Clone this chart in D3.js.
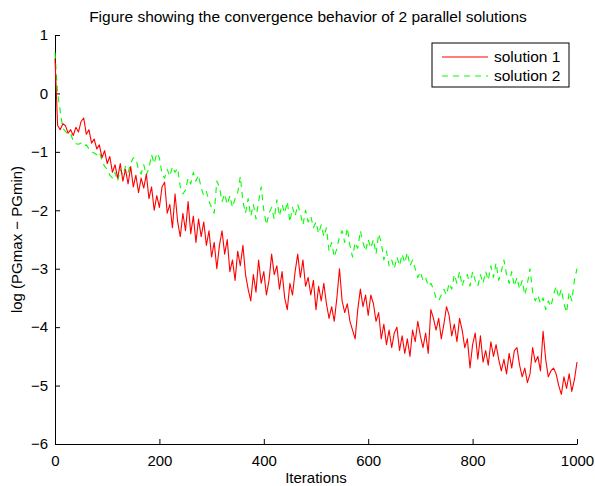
<!DOCTYPE html>
<html>
<head>
<meta charset="utf-8">
<script src="https://cdn.jsdelivr.net/npm/d3@7"></script>
<style>
	body { margin: 0; background: #fff; }
	text { font-family: 'Liberation Sans', Arial, sans-serif; fill: #000; }
	.axis path, .axis line { stroke: #000; stroke-width: 1; }
	.line { fill: none; stroke-linejoin: round; }
</style>
</head>
<body>
<div id="chart"></div>
<script>
/* global d3 */

var STEP = 5;

var seriesNames = ['solution 1', 'solution 2'];

var solution1 = [
	0.60, -0.55, -0.62, -0.52, -0.55, -0.68, -0.62, -0.72, -0.58, -0.66,
	-0.48, -0.42, -0.70, -0.62, -0.85, -0.78, -0.95, -0.88, -1.10, -0.98,
	-1.20, -1.08, -1.35, -1.22, -1.45, -1.20, -1.50, -1.30, -1.55, -1.25,
	-1.60, -1.40, -1.70, -1.45, -1.62, -1.38, -1.80, -1.60, -2.00, -1.75,
	-1.95, -1.60, -1.52, -2.05, -1.90, -2.30, -1.72, -2.20, -2.45, -2.05,
	-2.35, -1.85, -2.40, -2.10, -2.55, -2.15, -2.45, -2.20, -2.60, -2.35,
	-2.80, -2.55, -3.00, -2.60, -2.35, -2.75, -2.50, -3.05, -2.85, -3.20,
	-2.70, -2.95, -2.60, -3.10, -3.35, -3.55, -3.10, -3.40, -2.85, -3.25,
	-3.05, -3.45, -3.20, -2.75, -3.10, -2.95, -3.35, -3.05, -3.50, -3.70,
	-3.25, -3.45, -3.05, -2.75, -3.15, -2.85, -3.30, -3.15, -3.45, -3.20,
	-3.70, -3.30, -3.55, -3.25, -3.60, -3.85, -3.65, -3.90, -3.50, -3.00,
	-3.55, -3.75, -3.60, -3.90, -4.05, -4.20, -3.70, -3.35, -3.65, -3.45,
	-3.80, -3.45, -3.60, -3.90, -3.75, -4.20, -3.95, -4.30, -4.05, -4.35,
	-4.10, -4.00, -4.40, -4.15, -4.45, -4.20, -4.50, -4.05, -4.25, -3.90,
	-4.15, -4.35, -4.10, -4.45, -3.70, -3.85, -4.05, -3.85, -4.20, -3.95,
	-3.65, -3.80, -4.15, -3.95, -4.25, -3.85, -4.05, -4.35, -4.20, -4.70,
	-4.30, -4.10, -4.55, -4.15, -4.60, -4.40, -4.65, -4.25, -4.50, -4.30,
	-4.55, -4.75, -4.55, -4.80, -4.45, -4.70, -4.40, -4.35, -4.65, -4.85,
	-4.70, -4.95, -4.80, -4.35, -4.60, -4.50, -4.75, -4.07, -4.55, -4.85,
	-4.75, -4.70, -4.80, -5.00, -5.15, -4.85, -5.05, -4.80, -5.10, -4.90,
	-4.60
];

var solution2 = [
	0.70, 0.00, -0.30, -0.60, -0.65, -0.70, -0.68, -0.82, -0.86, -0.87,
	-0.85, -0.90, -0.88, -0.95, -1.00, -1.02, -1.05, -1.00, -1.15, -1.25,
	-1.30, -1.40, -1.45, -1.35, -1.50, -1.30, -1.40, -1.25, -1.35, -1.20,
	-1.10, -1.12, -1.30, -1.38, -1.22, -1.40, -1.28, -1.05, -1.20, -1.02,
	-1.10, -1.38, -1.45, -1.30, -1.42, -1.25, -1.35, -1.28, -1.60, -1.72,
	-1.65, -1.45, -1.55, -1.35, -1.50, -1.40, -1.62, -1.75, -1.68, -1.85,
	-1.95, -2.05, -1.50, -1.60, -1.85, -1.72, -1.90, -1.75, -1.95, -1.80,
	-1.70, -1.42, -1.85, -2.05, -1.80, -2.10, -1.90, -2.15, -1.85, -1.60,
	-2.00, -2.25, -2.05, -1.95, -2.15, -1.82, -2.10, -1.90, -2.05, -1.85,
	-2.20, -1.95, -2.10, -1.90, -2.05, -2.25, -2.00, -2.20, -2.10, -2.30,
	-2.20, -2.40, -2.25, -2.45, -2.30, -2.70, -2.55, -2.80, -2.65, -2.45,
	-2.35, -2.55, -2.30, -2.60, -2.80, -2.55, -2.65, -2.35, -2.55, -2.70,
	-2.50, -2.65, -2.50, -2.75, -2.40, -2.55, -2.85, -2.70, -2.95, -2.85,
	-3.00, -2.80, -2.95, -2.75, -2.90, -2.72, -2.95, -2.85, -3.00, -3.15,
	-3.05, -3.20, -3.15, -3.30, -3.25, -3.35, -3.50, -3.55, -3.45, -3.35,
	-3.45, -3.25, -3.35, -3.10, -3.25, -3.05, -3.30, -3.15, -3.10, -3.30,
	-3.05, -3.20, -3.30, -3.10, -3.25, -3.05, -3.20, -2.95, -3.15, -2.90,
	-3.20, -3.05, -2.85, -3.10, -3.25, -3.05, -3.30, -3.15, -3.35, -3.20,
	-3.45, -3.25, -3.00, -3.40, -3.55, -3.45, -3.60, -3.50, -3.70, -3.55,
	-3.65, -3.45, -3.30, -3.50, -3.35, -3.60, -3.75, -3.40, -3.55, -3.20,
	-3.00
];

var xTicks = [0, 200, 400, 600, 800, 1000];
var yTicks = [-6, -5, -4, -3, -2, -1, 0, 1];

var titleText = 'Figure showing the convergence behavior of 2 parallel solutions';
var xLabel = 'Iterations';
var yLabel = 'log (PGmax \u2212 PGmin)';

var buildConvergenceChart = function (el) {
	'use strict';

	function ConvergenceChart (el) {
		this.width 	= 522;
		this.height = 409;
		this.scales	= this.setScales();
		this.line	= this.setLine();

		// build chart
		this.svg 	= this.buildSVG(el);
		this.g 		= this.addMainGroup();
		this.addAxes();
		this.addLabels();

		// add data
		this.addSeries(solution2, '#00ff00', '6,5');
		this.addSeries(solution1, '#ff0000', null);

		this.addLegend();
	}

	ConvergenceChart.prototype = {
		margin: {top: 35, right: 18, bottom: 42, left: 55},

		setScales: function () {
			return {
				x: d3.scaleLinear().domain([0, 1000]).range([0, this.width]),
				y: d3.scaleLinear().domain([-6, 1]).range([this.height, 0]),
			};
		},

		setLine: function () {
			var that = this;
			return d3.line()
				.x(function (d, i) { return that.scales.x(i * STEP); })
				.y(function (d) { return that.scales.y(d); });
		},

		buildSVG: function (el) {
			return d3.select(el).append('svg')
						.attr('width', 595)
						.attr('height', 486);
		},

		addMainGroup: function () {
			return this.svg.append('g')
						.attr('transform', 'translate(' + this.margin.left + ',' + this.margin.top + ')');
		},

		addAxes: function () {
			var fmt = function (d) { return d3.format('d')(d); };

			var xAxis = this.g.append('g')
				.attr('class', 'axis axis--x')
				.attr('transform', 'translate(0,' + this.height + ')')
				.call(d3.axisBottom(this.scales.x).tickValues(xTicks).tickFormat(fmt)
					.tickSize(-5).tickSizeOuter(0).tickPadding(8));

			var yAxis = this.g.append('g')
				.attr('class', 'axis axis--y')
				.call(d3.axisLeft(this.scales.y).tickValues(yTicks).tickFormat(fmt)
					.tickSize(-5).tickSizeOuter(0).tickPadding(7));

			[xAxis, yAxis].forEach(function (ax) {
				ax.attr('font-family', null).attr('font-size', null);
				ax.selectAll('text').style('font-size', '15px');
			});
			xAxis.selectAll('text').attr('dy', '0.9em');
		},

		addLabels: function () {
			this.svg.append('text')
				.attr('x', 308)
				.attr('y', 22)
				.attr('text-anchor', 'middle')
				.style('font-size', '15.5px')
				.text(titleText);

			this.svg.append('text')
				.attr('x', this.margin.left + this.width / 2)
				.attr('y', 483)
				.attr('text-anchor', 'middle')
				.style('font-size', '15px')
				.text(xLabel);

			this.svg.append('text')
				.attr('transform', 'translate(22,' + (this.margin.top + this.height / 2) + ') rotate(-90)')
				.attr('text-anchor', 'middle')
				.style('font-size', '15px')
				.text(yLabel);
		},

		addSeries: function (values, color, dash) {
			this.g.append('path')
				.datum(values)
				.attr('class', 'line')
				.attr('d', this.line)
				.style('stroke', color)
				.style('stroke-width', 1.1)
				.style('stroke-dasharray', dash);
		},

		addLegend: function () {
			var legend = this.svg.append('g')
				.attr('class', 'legend')
				.attr('transform', 'translate(432,43)');

			legend.append('rect')
				.attr('width', 137)
				.attr('height', 44)
				.attr('fill', '#fff')
				.attr('stroke', '#000')
				.attr('stroke-width', 1);

			var items = [
				{name: seriesNames[0], color: '#ff0000', dash: null},
				{name: seriesNames[1], color: '#00ff00', dash: '6,5'},
			];

			var rows = legend.selectAll('.item')
				.data(items)
				.enter().append('g')
					.attr('class', 'item')
					.attr('transform', function (d, i) { return 'translate(0,' + (14 + i * 19) + ')'; });

			rows.append('line')
				.attr('x1', 10)
				.attr('x2', 56)
				.style('stroke', function (d) { return d.color; })
				.style('stroke-width', 1.1)
				.style('stroke-dasharray', function (d) { return d.dash; });

			rows.append('text')
				.attr('x', 62)
				.attr('dy', '0.35em')
				.style('font-size', '15.5px')
				.text(function (d) { return d.name; });
		},
	};

	return new ConvergenceChart(el);
};

buildConvergenceChart('#chart');
</script>
</body>
</html>
